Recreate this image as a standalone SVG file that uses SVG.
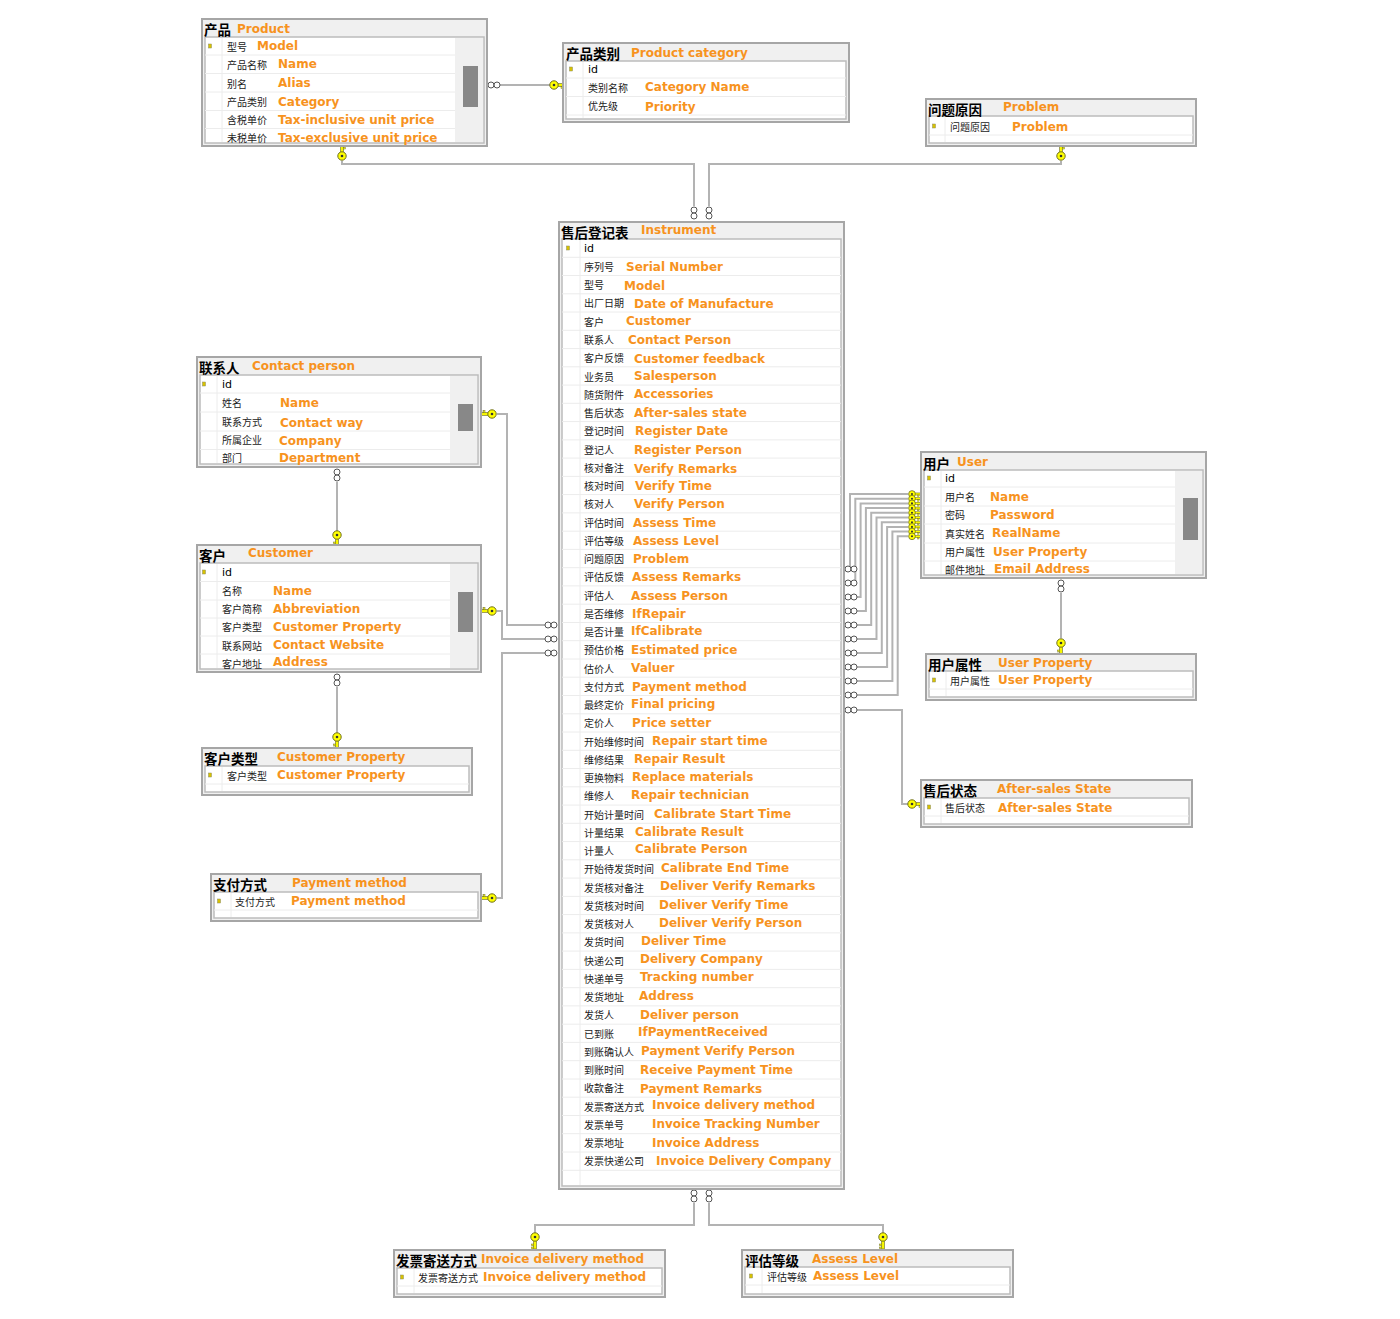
<svg xmlns="http://www.w3.org/2000/svg" xmlns:xlink="http://www.w3.org/1999/xlink" width="1400" height="1319" viewBox="0 0 1400 1319">
<style>
.box{fill:#f0f0f0;stroke:#a6a6a6;stroke-width:2}
.inner{fill:#fff;stroke:#bcbcbc;stroke-width:1.5}
.band{fill:#f0f0f0}
.thumb{fill:#888}
.sep{stroke:#ececec;stroke-width:1}
text{dominant-baseline:central}
.tz{font-family:"Noto Sans CJK SC","Noto Sans CJK JP",sans-serif;font-size:13.5px;font-weight:bold;fill:#000}
.te{font-family:"DejaVu Sans",Verdana,sans-serif;font-size:12px;font-weight:bold;fill:#f7931e}
.rz{font-family:"Noto Sans CJK SC","Noto Sans CJK JP",sans-serif;font-size:10px;fill:#222}
.re{font-family:"DejaVu Sans",Verdana,sans-serif;font-size:12px;font-weight:bold;fill:#f7931e}
.id{font-family:"DejaVu Sans",sans-serif;font-size:11px;fill:#000}
.pk{fill:#d8c200;stroke:#8a8a60;stroke-width:.5}
.conn{fill:none;stroke:#b3b3b3;stroke-width:2}
.inf{fill:#fff;stroke:#555;stroke-width:1}
</style>
<defs>
<g id="key">
<rect x="3" y="-1.3" width="9" height="2.6" fill="#ffff00" stroke="#6f6f20" stroke-width=".7"/>
<rect x="7" y="1.2" width="1.6" height="2.2" fill="#ffff00" stroke="#6f6f20" stroke-width=".5"/>
<rect x="10" y="1.2" width="1.6" height="2.2" fill="#ffff00" stroke="#6f6f20" stroke-width=".5"/>
<circle cx="0" cy="0" r="4.2" fill="#ffff00" stroke="#6f6f20" stroke-width="1"/>
<circle cx="0" cy="0" r="1.3" fill="#333"/>
</g>
<g id="infh"><circle cx="0" cy="0" r="3" class="inf"/><circle cx="6" cy="0" r="3" class="inf"/></g>
<g id="infv"><circle cx="0" cy="0" r="3" class="inf"/><circle cx="0" cy="6" r="3" class="inf"/></g>
<g id="pkmark"><rect x="-1.5" y="-2" width="3" height="4" class="pk"/></g>
</defs>

<g id="connectors">
<path class="conn" d="M500,85 H550"/>
<path class="conn" d="M342,161 V164 H694 V206"/>
<path class="conn" d="M1061,161 V164 H709 V206"/>
<path class="conn" d="M337,482 V532"/>
<path class="conn" d="M337,687 V733"/>
<path class="conn" d="M1061,593 V638"/>
<path class="conn" d="M694,1203 V1225 H535 V1233"/>
<path class="conn" d="M709,1203 V1225 H883 V1233"/>
<path class="conn" d="M497,414 H507 V625 H545"/>
<path class="conn" d="M497,611 H502 V639 H545"/>
<path class="conn" d="M497,898 H502 V653 H545"/>
<path class="conn" d="M857,569 H850 V494 H908"/>
<path class="conn" d="M857,583 H855.3 V498.7 H908"/>
<path class="conn" d="M857,597 H860.6 V503.4 H908"/>
<path class="conn" d="M857,611 H865.9 V508.1 H908"/>
<path class="conn" d="M857,625 H871.2 V512.8 H908"/>
<path class="conn" d="M857,639 H876.5 V517.5 H908"/>
<path class="conn" d="M857,653 H881.8 V522.2 H908"/>
<path class="conn" d="M857,667 H887.1 V526.9 H908"/>
<path class="conn" d="M857,681 H892.4 V531.6 H908"/>
<path class="conn" d="M857,695 H897.7 V536.3 H908"/>
<path class="conn" d="M857,710 H902 V804 H908"/>
<use xlink:href="#infh" x="491" y="85"/>
<use xlink:href="#key" transform="translate(554,85)"/>
<use xlink:href="#key" transform="translate(342,156) rotate(-90)"/>
<use xlink:href="#key" transform="translate(1061,156) rotate(-90)"/>
<use xlink:href="#infv" x="694" y="210"/>
<use xlink:href="#infv" x="709" y="210"/>
<use xlink:href="#infv" x="337" y="472"/>
<use xlink:href="#key" transform="translate(337,535) rotate(90)"/>
<use xlink:href="#infv" x="337" y="677"/>
<use xlink:href="#key" transform="translate(337,737) rotate(90)"/>
<use xlink:href="#infv" x="1061" y="583"/>
<use xlink:href="#key" transform="translate(1061,643) rotate(90)"/>
<use xlink:href="#infv" x="694" y="1193"/>
<use xlink:href="#infv" x="709" y="1193"/>
<use xlink:href="#key" transform="translate(535,1237) rotate(90)"/>
<use xlink:href="#key" transform="translate(883,1237) rotate(90)"/>
<use xlink:href="#key" transform="translate(492,414) rotate(180)"/>
<use xlink:href="#key" transform="translate(492,611) rotate(180)"/>
<use xlink:href="#key" transform="translate(492,898) rotate(180)"/>
<use xlink:href="#infh" x="548" y="625"/>
<use xlink:href="#infh" x="548" y="639"/>
<use xlink:href="#infh" x="548" y="653"/>
<use xlink:href="#infh" x="848" y="569"/>
<use xlink:href="#infh" x="848" y="583"/>
<use xlink:href="#infh" x="848" y="597"/>
<use xlink:href="#infh" x="848" y="611"/>
<use xlink:href="#infh" x="848" y="625"/>
<use xlink:href="#infh" x="848" y="639"/>
<use xlink:href="#infh" x="848" y="653"/>
<use xlink:href="#infh" x="848" y="667"/>
<use xlink:href="#infh" x="848" y="681"/>
<use xlink:href="#infh" x="848" y="695"/>
<use xlink:href="#infh" x="848" y="710"/>
<use xlink:href="#key" transform="translate(912,494) scale(.8)"/>
<use xlink:href="#key" transform="translate(912,498.7) scale(.8)"/>
<use xlink:href="#key" transform="translate(912,503.4) scale(.8)"/>
<use xlink:href="#key" transform="translate(912,508.1) scale(.8)"/>
<use xlink:href="#key" transform="translate(912,512.8) scale(.8)"/>
<use xlink:href="#key" transform="translate(912,517.5) scale(.8)"/>
<use xlink:href="#key" transform="translate(912,522.2) scale(.8)"/>
<use xlink:href="#key" transform="translate(912,526.9) scale(.8)"/>
<use xlink:href="#key" transform="translate(912,531.6) scale(.8)"/>
<use xlink:href="#key" transform="translate(912,536.3) scale(.8)"/>
<use xlink:href="#key" transform="translate(912,804)"/>
</g>

<g id="product">
<rect class="box" x="202" y="19" width="285" height="127"/>
<rect class="inner" x="205" y="37" width="279" height="106"/>
<rect class="band" x="455" y="38" width="28" height="104"/>
<rect class="thumb" x="463" y="66" width="15" height="41"/>
<path class="sep" d="M222,38 V142 M205,55 H455 M205,73.5 H455 M205,92 H455 M205,110.5 H455 M205,128.5 H455"/>
<text class="tz" x="204" y="29">产品</text><text class="te" x="237" y="29">Product</text>
<use xlink:href="#pkmark" x="210" y="46"/>
<text class="rz" x="227" y="46">型号</text><text class="re" x="257" y="46">Model</text>
<text class="rz" x="227" y="64">产品名称</text><text class="re" x="278" y="64">Name</text>
<text class="rz" x="227" y="83">别名</text><text class="re" x="278" y="83">Alias</text>
<text class="rz" x="227" y="101">产品类别</text><text class="re" x="278" y="102">Category</text>
<text class="rz" x="227" y="119">含税单价</text><text class="re" x="278" y="120">Tax-inclusive unit price</text>
<text class="rz" x="227" y="137">未税单价</text><text class="re" x="278" y="138">Tax-exclusive unit price</text>
</g>

<g id="product-category">
<rect class="box" x="563" y="43" width="286" height="79"/>
<rect class="inner" x="566" y="61" width="280" height="58"/>
<path class="sep" d="M583,62 V118 M566,78 H846 M566,96.5 H846 M566,115 H846"/>
<text class="tz" x="566" y="53">产品类别</text><text class="te" x="631" y="53">Product category</text>
<use xlink:href="#pkmark" x="571" y="69"/>
<text class="id" x="588" y="69">id</text>
<text class="rz" x="588" y="87">类别名称</text><text class="re" x="645" y="87">Category Name</text>
<text class="rz" x="588" y="105">优先级</text><text class="re" x="645" y="107">Priority</text>
</g>

<g id="problem">
<rect class="box" x="926" y="99" width="270" height="47"/>
<rect class="inner" x="929" y="116" width="264" height="27"/>
<path class="sep" d="M945,117 V142 M929,135 H1193"/>
<text class="tz" x="928" y="109">问题原因</text><text class="te" x="1003" y="107">Problem</text>
<use xlink:href="#pkmark" x="934" y="126"/>
<text class="rz" x="950" y="126">问题原因</text><text class="re" x="1012" y="127">Problem</text>
</g>

<g id="instrument">
<rect class="box" x="559" y="222" width="285" height="967"/>
<rect class="inner" x="562" y="239" width="279" height="947"/>
<path class="sep" d="M580,240 V1185 M562,257.3 H841 M562,275.5 H841 M562,293.8 H841 M562,312 H841 M562,330.3 H841 M562,348.6 H841 M562,366.8 H841 M562,385.1 H841 M562,403.3 H841 M562,421.6 H841 M562,439.9 H841 M562,458.1 H841 M562,476.4 H841 M562,494.6 H841 M562,512.9 H841 M562,531.2 H841 M562,549.4 H841 M562,567.7 H841 M562,585.9 H841 M562,604.2 H841 M562,622.5 H841 M562,640.7 H841 M562,659 H841 M562,677.2 H841 M562,695.5 H841 M562,713.8 H841 M562,732 H841 M562,750.3 H841 M562,768.5 H841 M562,786.8 H841 M562,805.1 H841 M562,823.3 H841 M562,841.6 H841 M562,859.8 H841 M562,878.1 H841 M562,896.4 H841 M562,914.6 H841 M562,932.9 H841 M562,951.1 H841 M562,969.4 H841 M562,987.7 H841 M562,1005.9 H841 M562,1024.2 H841 M562,1042.4 H841 M562,1060.7 H841 M562,1079 H841 M562,1097.2 H841 M562,1115.5 H841 M562,1133.7 H841 M562,1152 H841 M562,1170.3 H841"/>
<text class="tz" x="561" y="232">售后登记表</text><text class="te" x="641" y="230">Instrument</text>
<use xlink:href="#pkmark" x="568" y="248"/>
<text class="id" x="584" y="248">id</text>
<text class="rz" x="584" y="266">序列号</text><text class="re" x="626" y="267">Serial Number</text>
<text class="rz" x="584" y="284">型号</text><text class="re" x="624" y="286">Model</text>
<text class="rz" x="584" y="302">出厂日期</text><text class="re" x="634" y="304">Date of Manufacture</text>
<text class="rz" x="584" y="321">客户</text><text class="re" x="626" y="321">Customer</text>
<text class="rz" x="584" y="339">联系人</text><text class="re" x="628" y="340">Contact Person</text>
<text class="rz" x="584" y="357">客户反馈</text><text class="re" x="634" y="359">Customer feedback</text>
<text class="rz" x="584" y="376">业务员</text><text class="re" x="634" y="376">Salesperson</text>
<text class="rz" x="584" y="394">随货附件</text><text class="re" x="634" y="394">Accessories</text>
<text class="rz" x="584" y="412">售后状态</text><text class="re" x="634" y="413">After-sales state</text>
<text class="rz" x="584" y="430">登记时间</text><text class="re" x="635" y="431">Register Date</text>
<text class="rz" x="584" y="449">登记人</text><text class="re" x="634" y="450">Register Person</text>
<text class="rz" x="584" y="467">核对备注</text><text class="re" x="634" y="469">Verify Remarks</text>
<text class="rz" x="584" y="485">核对时间</text><text class="re" x="635" y="486">Verify Time</text>
<text class="rz" x="584" y="503">核对人</text><text class="re" x="634" y="504">Verify Person</text>
<text class="rz" x="584" y="522">评估时间</text><text class="re" x="633" y="523">Assess Time</text>
<text class="rz" x="584" y="540">评估等级</text><text class="re" x="633" y="541">Assess Level</text>
<text class="rz" x="584" y="558">问题原因</text><text class="re" x="633" y="559">Problem</text>
<text class="rz" x="584" y="576">评估反馈</text><text class="re" x="632" y="577">Assess Remarks</text>
<text class="rz" x="584" y="595">评估人</text><text class="re" x="631" y="596">Assess Person</text>
<text class="rz" x="584" y="613">是否维修</text><text class="re" x="632" y="614">IfRepair</text>
<text class="rz" x="584" y="631">是否计量</text><text class="re" x="631" y="631">IfCalibrate</text>
<text class="rz" x="584" y="649">预估价格</text><text class="re" x="631" y="650">Estimated price</text>
<text class="rz" x="584" y="668">估价人</text><text class="re" x="631" y="668">Valuer</text>
<text class="rz" x="584" y="686">支付方式</text><text class="re" x="632" y="687">Payment method</text>
<text class="rz" x="584" y="704">最终定价</text><text class="re" x="631" y="704">Final pricing</text>
<text class="rz" x="584" y="722">定价人</text><text class="re" x="632" y="723">Price setter</text>
<text class="rz" x="584" y="741">开始维修时间</text><text class="re" x="652" y="741">Repair start time</text>
<text class="rz" x="584" y="759">维修结果</text><text class="re" x="634" y="759">Repair Result</text>
<text class="rz" x="584" y="777">更换物料</text><text class="re" x="632" y="777">Replace materials</text>
<text class="rz" x="584" y="795">维修人</text><text class="re" x="631" y="795">Repair technician</text>
<text class="rz" x="584" y="814">开始计量时间</text><text class="re" x="654" y="814">Calibrate Start Time</text>
<text class="rz" x="584" y="832">计量结果</text><text class="re" x="635" y="832">Calibrate Result</text>
<text class="rz" x="584" y="850">计量人</text><text class="re" x="635" y="849">Calibrate Person</text>
<text class="rz" x="584" y="868">开始待发货时间</text><text class="re" x="661" y="868">Calibrate End Time</text>
<text class="rz" x="584" y="887">发货核对备注</text><text class="re" x="660" y="886">Deliver Verify Remarks</text>
<text class="rz" x="584" y="905">发货核对时间</text><text class="re" x="659" y="905">Deliver Verify Time</text>
<text class="rz" x="584" y="923">发货核对人</text><text class="re" x="659" y="923">Deliver Verify Person</text>
<text class="rz" x="584" y="941">发货时间</text><text class="re" x="641" y="941">Deliver Time</text>
<text class="rz" x="584" y="960">快递公司</text><text class="re" x="640" y="959">Delivery Company</text>
<text class="rz" x="584" y="978">快递单号</text><text class="re" x="640" y="977">Tracking number</text>
<text class="rz" x="584" y="996">发货地址</text><text class="re" x="639" y="996">Address</text>
<text class="rz" x="584" y="1014">发货人</text><text class="re" x="640" y="1015">Deliver person</text>
<text class="rz" x="584" y="1033">已到账</text><text class="re" x="638" y="1032">IfPaymentReceived</text>
<text class="rz" x="584" y="1051">到账确认人</text><text class="re" x="641" y="1051">Payment Verify Person</text>
<text class="rz" x="584" y="1069">到账时间</text><text class="re" x="640" y="1070">Receive Payment Time</text>
<text class="rz" x="584" y="1087">收款备注</text><text class="re" x="640" y="1089">Payment Remarks</text>
<text class="rz" x="584" y="1106">发票寄送方式</text><text class="re" x="652" y="1105">Invoice delivery method</text>
<text class="rz" x="584" y="1124">发票单号</text><text class="re" x="652" y="1124">Invoice Tracking Number</text>
<text class="rz" x="584" y="1142">发票地址</text><text class="re" x="652" y="1143">Invoice Address</text>
<text class="rz" x="584" y="1160">发票快递公司</text><text class="re" x="656" y="1161">Invoice Delivery Company</text>
</g>

<g id="contact-person">
<rect class="box" x="197" y="357" width="284" height="110"/>
<rect class="inner" x="200" y="375" width="278" height="89"/>
<rect class="band" x="450" y="376" width="27" height="87"/>
<rect class="thumb" x="458" y="404" width="15" height="27"/>
<path class="sep" d="M217,376 V463 M200,393 H450 M200,412 H450 M200,431 H450 M200,449.5 H450"/>
<text class="tz" x="199" y="367">联系人</text><text class="te" x="252" y="366">Contact person</text>
<use xlink:href="#pkmark" x="204" y="384"/>
<text class="id" x="222" y="384">id</text>
<text class="rz" x="222" y="402">姓名</text><text class="re" x="280" y="403">Name</text>
<text class="rz" x="222" y="421">联系方式</text><text class="re" x="280" y="423">Contact way</text>
<text class="rz" x="222" y="439">所属企业</text><text class="re" x="279" y="441">Company</text>
<text class="rz" x="222" y="457">部门</text><text class="re" x="279" y="458">Department</text>
</g>

<g id="customer">
<rect class="box" x="197" y="545" width="284" height="127"/>
<rect class="inner" x="200" y="563" width="278" height="106"/>
<rect class="band" x="450" y="564" width="27" height="104"/>
<rect class="thumb" x="458" y="592" width="15" height="40"/>
<path class="sep" d="M217,564 V668 M200,581.5 H450 M200,600 H450 M200,618 H450 M200,636 H450 M200,654 H450"/>
<text class="tz" x="199" y="555">客户</text><text class="te" x="248" y="553">Customer</text>
<use xlink:href="#pkmark" x="204" y="572"/>
<text class="id" x="222" y="572">id</text>
<text class="rz" x="222" y="590">名称</text><text class="re" x="273" y="591">Name</text>
<text class="rz" x="222" y="608">客户简称</text><text class="re" x="273" y="609">Abbreviation</text>
<text class="rz" x="222" y="626">客户类型</text><text class="re" x="273" y="627">Customer Property</text>
<text class="rz" x="222" y="645">联系网站</text><text class="re" x="273" y="645">Contact Website</text>
<text class="rz" x="222" y="663">客户地址</text><text class="re" x="273" y="662">Address</text>
</g>

<g id="customer-property">
<rect class="box" x="202" y="748" width="270" height="47"/>
<rect class="inner" x="205" y="766" width="264" height="26"/>
<path class="sep" d="M222,767 V791 M205,784 H469"/>
<text class="tz" x="204" y="758">客户类型</text><text class="te" x="277" y="757">Customer Property</text>
<use xlink:href="#pkmark" x="210" y="775"/>
<text class="rz" x="227" y="775">客户类型</text><text class="re" x="277" y="775">Customer Property</text>
</g>

<g id="payment-method">
<rect class="box" x="211" y="874" width="270" height="47"/>
<rect class="inner" x="214" y="892" width="264" height="26"/>
<path class="sep" d="M231,893 V917 M214,910 H478"/>
<text class="tz" x="213" y="884">支付方式</text><text class="te" x="292" y="883">Payment method</text>
<use xlink:href="#pkmark" x="219" y="901"/>
<text class="rz" x="235" y="901">支付方式</text><text class="re" x="291" y="901">Payment method</text>
</g>

<g id="user">
<rect class="box" x="921" y="452" width="285" height="126"/>
<rect class="inner" x="924" y="470" width="279" height="105"/>
<rect class="band" x="1175" y="471" width="27" height="103"/>
<rect class="thumb" x="1183" y="498" width="15" height="42"/>
<path class="sep" d="M941,471 V574 M924,487 H1175 M924,506 H1175 M924,524 H1175 M924,543 H1175 M924,561 H1175"/>
<text class="tz" x="923" y="463">用户</text><text class="te" x="957" y="462">User</text>
<use xlink:href="#pkmark" x="929" y="478"/>
<text class="id" x="945" y="478">id</text>
<text class="rz" x="945" y="496">用户名</text><text class="re" x="990" y="497">Name</text>
<text class="rz" x="945" y="514">密码</text><text class="re" x="990" y="515">Password</text>
<text class="rz" x="945" y="533">真实姓名</text><text class="re" x="992" y="533">RealName</text>
<text class="rz" x="945" y="551">用户属性</text><text class="re" x="993" y="552">User Property</text>
<text class="rz" x="945" y="569">邮件地址</text><text class="re" x="994" y="569">Email Address</text>
</g>

<g id="user-property">
<rect class="box" x="926" y="654" width="270" height="46"/>
<rect class="inner" x="929" y="671" width="264" height="26"/>
<path class="sep" d="M946,672 V696 M929,689 H1193"/>
<text class="tz" x="928" y="663.5">用户属性</text><text class="te" x="998" y="663">User Property</text>
<use xlink:href="#pkmark" x="934" y="680"/>
<text class="rz" x="950" y="680.5">用户属性</text><text class="re" x="998" y="680">User Property</text>
</g>

<g id="after-sales-state">
<rect class="box" x="921" y="780" width="271" height="47"/>
<rect class="inner" x="924" y="798" width="265" height="26"/>
<path class="sep" d="M941,799 V823 M924,816 H1189"/>
<text class="tz" x="923" y="790">售后状态</text><text class="te" x="997" y="789">After-sales State</text>
<use xlink:href="#pkmark" x="929" y="807"/>
<text class="rz" x="945" y="807">售后状态</text><text class="re" x="998" y="808">After-sales State</text>
</g>

<g id="invoice-delivery-method">
<rect class="box" x="394" y="1250" width="271" height="47"/>
<rect class="inner" x="397" y="1268" width="265" height="26"/>
<path class="sep" d="M414,1269 V1293 M397,1286 H662"/>
<text class="tz" x="396" y="1260">发票寄送方式</text><text class="te" x="481" y="1259">Invoice delivery method</text>
<use xlink:href="#pkmark" x="402" y="1277"/>
<text class="rz" x="418" y="1277">发票寄送方式</text><text class="re" x="483" y="1277">Invoice delivery method</text>
</g>

<g id="assess-level">
<rect class="box" x="742" y="1250" width="271" height="47"/>
<rect class="inner" x="745" y="1267" width="265" height="27"/>
<path class="sep" d="M762,1268 V1293 M745,1285 H1010"/>
<text class="tz" x="745" y="1260">评估等级</text><text class="te" x="812" y="1259">Assess Level</text>
<use xlink:href="#pkmark" x="751" y="1276"/>
<text class="rz" x="767" y="1276">评估等级</text><text class="re" x="813" y="1276">Assess Level</text>
</g>
</svg>
